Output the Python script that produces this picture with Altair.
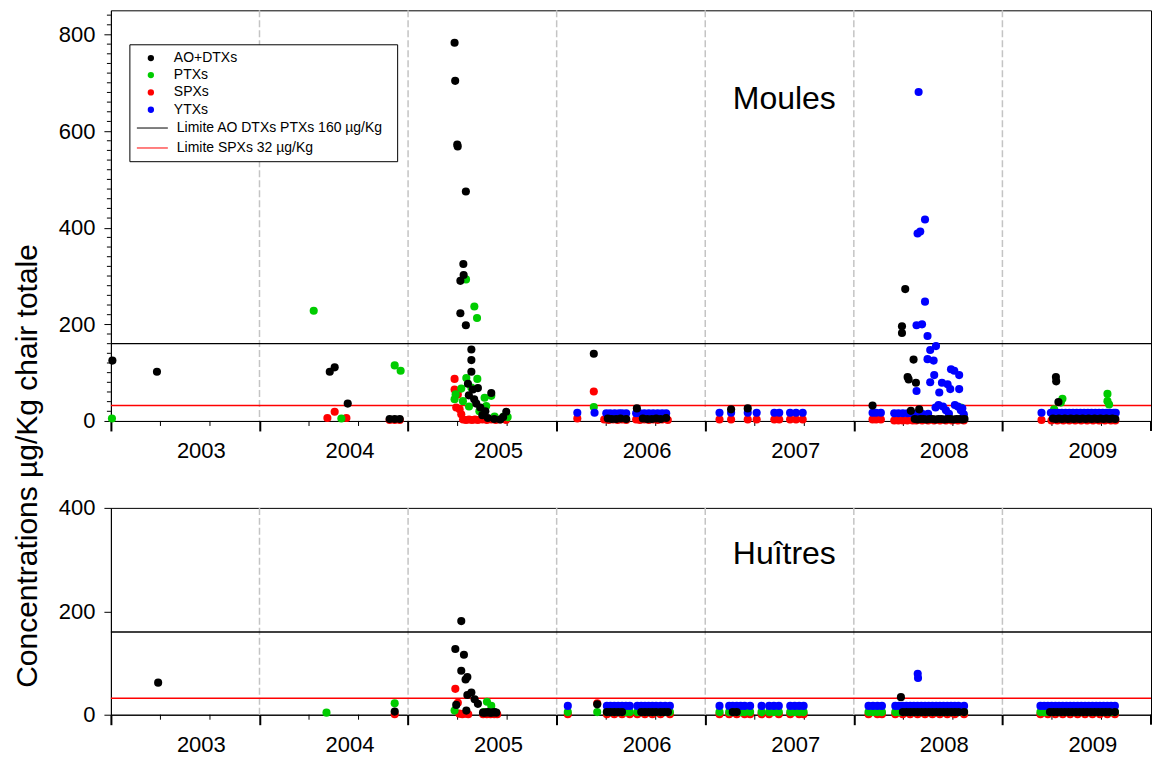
import altair as alt
import pandas as pd

# ---------------------------------------------------------------------------
# Toxin series: (decimal year, concentration in µg/Kg chair totale)
# ---------------------------------------------------------------------------
TOXINS = ["AO+DTXs", "PTXs", "SPXs", "YTXs"]
TOXIN_COLORS = ["#000000", "#00cc00", "#ff0000", "#0000ff"]
DRAW_ORDER = ["SPXs", "PTXs", "YTXs", "AO+DTXs"]

YEAR_TICKS = [2003, 2004, 2005, 2006, 2007, 2008, 2009]
YEAR_END = 2010
SEASON_LINES = [2004, 2005, 2006, 2007, 2008, 2009]
LIMIT_DTX = 160
LIMIT_SPX = 32

# --- Moules ---------------------------------------------------------------
M_AO = [
    (2003.010, 125), (2003.310, 102),
    (2004.473, 102), (2004.506, 111), (2004.594, 36), (2004.876, 4), (2004.910, 4), (2004.944, 4),
    (2005.313, 783), (2005.317, 704), (2005.331, 572), (2005.334, 568), (2005.352, 290), (2005.352, 223),
    (2005.372, 325), (2005.374, 302), (2005.389, 475), (2005.389, 198), (2005.403, 77), (2005.409, 53),
    (2005.426, 148), (2005.426, 126), (2005.426, 102), (2005.436, 65), (2005.445, 45), (2005.459, 36),
    (2005.470, 68), (2005.486, 28), (2005.500, 12), (2005.520, 20), (2005.537, 6), (2005.560, 58),
    (2005.580, 4), (2005.620, 3), (2005.640, 8), (2005.661, 19),
    (2006.250, 139), (2006.344, 5), (2006.370, 4), (2006.400, 4), (2006.430, 5), (2006.468, 4),
    (2006.540, 26), (2006.580, 5), (2006.610, 4), (2006.640, 4), (2006.670, 5), (2006.700, 4), (2006.737, 6),
    (2007.174, 24), (2007.286, 26),
    (2008.126, 32), (2008.324, 196), (2008.324, 182), (2008.346, 273), (2008.362, 91), (2008.369, 86),
    (2008.384, 21), (2008.402, 127), (2008.418, 79), (2008.440, 24),
    (2008.410, 4), (2008.430, 3), (2008.450, 4), (2008.470, 4), (2008.490, 3), (2008.510, 4),
    (2008.530, 4), (2008.550, 3), (2008.570, 4), (2008.590, 4), (2008.610, 3), (2008.630, 4),
    (2008.650, 4), (2008.670, 3), (2008.690, 4), (2008.710, 4), (2008.730, 3), (2008.745, 4),
    (2009.360, 91), (2009.362, 82), (2009.377, 39),
    (2009.340, 5), (2009.360, 4), (2009.380, 5), (2009.400, 4), (2009.420, 5), (2009.440, 4),
    (2009.460, 5), (2009.480, 4), (2009.500, 5), (2009.520, 4), (2009.540, 5), (2009.560, 4),
    (2009.580, 5), (2009.600, 4), (2009.620, 5), (2009.640, 4), (2009.660, 5), (2009.680, 4),
    (2009.700, 5), (2009.720, 4), (2009.740, 5), (2009.760, 4),
]

M_PTX = [
    (2003.007, 5),
    (2004.365, 228), (2004.551, 5), (2004.910, 115), (2004.950, 104),
    (2005.313, 45), (2005.320, 55), (2005.358, 67), (2005.369, 41), (2005.390, 293), (2005.392, 89),
    (2005.410, 30), (2005.426, 69), (2005.446, 237), (2005.464, 213), (2005.466, 87), (2005.480, 20),
    (2005.515, 48), (2005.526, 31), (2005.560, 52), (2005.582, 9), (2005.643, 9), (2005.670, 8),
    (2006.250, 29),
    (2008.720, 28), (2008.740, 8),
    (2009.348, 24), (2009.393, 38), (2009.404, 46), (2009.450, 6), (2009.600, 6),
    (2009.707, 56), (2009.707, 41), (2009.718, 34),
]

M_SPX = [
    (2004.457, 6), (2004.506, 19), (2004.585, 6), (2004.876, 2), (2004.910, 2), (2004.944, 2),
    (2005.313, 87), (2005.313, 65), (2005.324, 28), (2005.335, 55), (2005.347, 24), (2005.358, 14),
    (2005.370, 3), (2005.390, 2), (2005.410, 3), (2005.430, 2), (2005.450, 3), (2005.470, 2),
    (2005.500, 3), (2005.530, 2), (2005.560, 3), (2005.590, 2), (2005.620, 3), (2005.660, 2),
    (2006.139, 5), (2006.250, 61),
    (2006.320, 3), (2006.350, 2), (2006.380, 3), (2006.410, 2), (2006.440, 3), (2006.468, 2),
    (2006.535, 3), (2006.560, 2), (2006.590, 3), (2006.620, 2), (2006.650, 3), (2006.680, 2),
    (2006.710, 3), (2006.748, 2),
    (2007.096, 3), (2007.174, 3), (2007.286, 3), (2007.346, 3), (2007.465, 3), (2007.498, 3),
    (2007.571, 3), (2007.611, 3), (2007.656, 3),
    (2008.126, 3), (2008.150, 3), (2008.182, 3),
    (2008.272, 1), (2008.300, 1), (2008.330, 1), (2008.360, 1), (2008.396, 1),
    (2008.420, 1), (2008.460, 1), (2008.500, 1), (2008.540, 1), (2008.580, 1), (2008.620, 1),
    (2008.660, 1), (2008.700, 1), (2008.740, 1),
    (2009.263, 2),
    (2009.330, 1), (2009.370, 1), (2009.410, 1), (2009.450, 1), (2009.490, 1), (2009.530, 1),
    (2009.570, 1), (2009.610, 1), (2009.650, 1), (2009.690, 1), (2009.730, 1), (2009.760, 1),
]

M_YTX = [
    (2006.139, 17), (2006.255, 17),
    (2006.334, 16), (2006.360, 16), (2006.390, 16), (2006.420, 16), (2006.440, 16), (2006.468, 16),
    (2006.535, 16), (2006.560, 16), (2006.590, 16), (2006.620, 16), (2006.650, 16), (2006.680, 16),
    (2006.710, 16), (2006.737, 16),
    (2007.096, 17), (2007.174, 17), (2007.286, 17), (2007.346, 17), (2007.465, 17), (2007.498, 17),
    (2007.571, 17), (2007.611, 17), (2007.656, 17),
    (2008.126, 17), (2008.150, 17), (2008.182, 17),
    (2008.272, 16), (2008.300, 16), (2008.330, 16), (2008.360, 16), (2008.384, 16),
    (2008.422, 198), (2008.422, 62), (2008.429, 388), (2008.436, 681), (2008.447, 392), (2008.459, 200),
    (2008.479, 417), (2008.479, 247), (2008.496, 176), (2008.496, 128), (2008.514, 147), (2008.514, 80),
    (2008.537, 125), (2008.541, 95), (2008.553, 155), (2008.575, 59), (2008.593, 79), (2008.631, 76),
    (2008.649, 66), (2008.654, 107), (2008.676, 104), (2008.709, 95), (2008.709, 66),
    (2008.420, 15), (2008.460, 15), (2008.500, 15), (2008.550, 28), (2008.570, 33), (2008.600, 30),
    (2008.620, 22), (2008.640, 15), (2008.680, 33), (2008.700, 30), (2008.720, 22), (2008.730, 26),
    (2008.740, 14),
    (2009.263, 17),
    (2009.326, 17), (2009.350, 17), (2009.375, 17), (2009.400, 17), (2009.425, 17), (2009.450, 17),
    (2009.475, 17), (2009.500, 17), (2009.525, 17), (2009.550, 17), (2009.575, 17), (2009.600, 17),
    (2009.625, 17), (2009.650, 17), (2009.675, 17), (2009.700, 17), (2009.725, 17), (2009.750, 17),
    (2009.763, 17),
]

# --- Huîtres --------------------------------------------------------------
H_AO = [
    (2003.318, 62),
    (2004.910, 6),
    (2005.318, 127), (2005.324, 19), (2005.358, 181), (2005.358, 85), (2005.376, 116),
    (2005.387, 68), (2005.392, 8), (2005.399, 73), (2005.399, 38), (2005.426, 43),
    (2005.448, 30), (2005.470, 21),
    (2005.504, 4), (2005.520, 4), (2005.535, 5), (2005.550, 4), (2005.565, 4), (2005.580, 5), (2005.594, 4),
    (2006.273, 20),
    (2006.338, 5), (2006.362, 5), (2006.388, 5), (2006.414, 5), (2006.440, 5),
    (2006.569, 5), (2006.594, 5), (2006.619, 5), (2006.644, 5), (2006.669, 5), (2006.699, 5),
    (2006.724, 5), (2006.749, 5),
    (2007.185, 5), (2007.212, 5),
    (2008.317, 34),
    (2008.330, 5), (2008.355, 5), (2008.380, 5), (2008.405, 5), (2008.430, 5), (2008.455, 5),
    (2008.480, 5), (2008.505, 5), (2008.530, 5), (2008.555, 5), (2008.580, 5), (2008.605, 5),
    (2008.630, 5), (2008.655, 5), (2008.680, 5), (2008.705, 5), (2008.742, 5),
    (2009.320, 5), (2009.345, 5), (2009.370, 5), (2009.395, 5), (2009.420, 5), (2009.445, 5),
    (2009.470, 5), (2009.495, 5), (2009.520, 5), (2009.545, 5), (2009.570, 5), (2009.595, 5),
    (2009.620, 5), (2009.645, 5), (2009.670, 5), (2009.695, 5), (2009.720, 5), (2009.757, 5),
]

H_PTX = [
    (2004.451, 4), (2004.910, 22),
    (2005.313, 8), (2005.510, 5), (2005.531, 25), (2005.560, 17), (2005.580, 5),
    (2006.075, 5), (2006.273, 5),
    (2006.338, 5), (2006.362, 5), (2006.388, 5), (2006.414, 5), (2006.440, 5), (2006.466, 5),
    (2006.492, 5), (2006.543, 5), (2006.569, 5), (2006.594, 5), (2006.619, 5), (2006.644, 5),
    (2006.669, 5), (2006.699, 5), (2006.730, 5), (2006.762, 5),
    (2007.096, 5), (2007.161, 5), (2007.185, 5), (2007.212, 5), (2007.238, 5), (2007.265, 5),
    (2007.302, 5), (2007.379, 5), (2007.430, 5), (2007.462, 5), (2007.495, 5), (2007.572, 5),
    (2007.602, 5), (2007.632, 5), (2007.662, 5),
    (2008.099, 5), (2008.129, 5), (2008.159, 5), (2008.189, 5),
    (2008.279, 5), (2008.304, 5), (2008.329, 5), (2008.354, 5), (2008.379, 5), (2008.404, 5),
    (2008.429, 5), (2008.454, 5), (2008.479, 5), (2008.504, 5), (2008.529, 5), (2008.554, 5),
    (2008.579, 5), (2008.604, 5), (2008.629, 5), (2008.654, 5), (2008.679, 5), (2008.704, 5),
    (2008.742, 5),
    (2009.256, 5), (2009.281, 5), (2009.306, 5), (2009.331, 5), (2009.356, 5), (2009.381, 5),
    (2009.406, 5), (2009.431, 5), (2009.456, 5), (2009.481, 5), (2009.506, 5), (2009.531, 5),
    (2009.556, 5), (2009.581, 5), (2009.606, 5), (2009.631, 5), (2009.656, 5), (2009.681, 5),
    (2009.706, 5), (2009.731, 5), (2009.757, 5),
]

H_SPX = [
    (2004.910, 1),
    (2005.318, 50), (2005.335, 23), (2005.345, 2), (2005.365, 1), (2005.385, 2), (2005.405, 1),
    (2005.505, 1), (2005.530, 1), (2005.555, 1), (2005.580, 1), (2005.600, 1),
    (2006.075, 1), (2006.273, 22),
    (2006.338, 1), (2006.388, 1), (2006.440, 1), (2006.492, 1), (2006.543, 1), (2006.594, 1),
    (2006.644, 1), (2006.699, 1), (2006.762, 1),
    (2007.096, 1), (2007.161, 1), (2007.212, 1), (2007.265, 1), (2007.302, 1), (2007.379, 1),
    (2007.430, 1), (2007.495, 1), (2007.572, 1), (2007.632, 1), (2007.662, 1),
    (2008.099, 1), (2008.159, 1), (2008.189, 1),
    (2008.279, 1), (2008.329, 1), (2008.379, 1), (2008.429, 1), (2008.479, 1), (2008.529, 1),
    (2008.579, 1), (2008.629, 1), (2008.679, 1), (2008.742, 1),
    (2009.256, 1), (2009.306, 1), (2009.356, 1), (2009.406, 1), (2009.456, 1), (2009.506, 1),
    (2009.556, 1), (2009.606, 1), (2009.656, 1), (2009.706, 1), (2009.757, 1),
]

H_YTX = [
    (2006.075, 17),
    (2006.338, 17), (2006.362, 17), (2006.388, 17), (2006.414, 17), (2006.440, 17), (2006.466, 17),
    (2006.492, 17), (2006.543, 17), (2006.569, 17), (2006.594, 17), (2006.619, 17), (2006.644, 17),
    (2006.669, 17), (2006.699, 17), (2006.730, 17), (2006.762, 17),
    (2007.096, 17), (2007.161, 17), (2007.185, 17), (2007.212, 17), (2007.238, 17), (2007.265, 17),
    (2007.302, 17), (2007.379, 17), (2007.430, 17), (2007.462, 17), (2007.495, 17), (2007.572, 17),
    (2007.602, 17), (2007.632, 17), (2007.662, 17),
    (2008.099, 17), (2008.129, 17), (2008.159, 17), (2008.189, 17),
    (2008.279, 17), (2008.304, 17), (2008.329, 17), (2008.354, 17), (2008.379, 17), (2008.404, 17),
    (2008.429, 17), (2008.454, 17), (2008.479, 17), (2008.504, 17), (2008.529, 17), (2008.554, 17),
    (2008.579, 17), (2008.604, 17), (2008.629, 17), (2008.654, 17), (2008.679, 17), (2008.704, 17),
    (2008.742, 17),
    (2008.430, 79), (2008.432, 71),
    (2009.256, 17), (2009.281, 17), (2009.306, 17), (2009.331, 17), (2009.356, 17), (2009.381, 17),
    (2009.406, 17), (2009.431, 17), (2009.456, 17), (2009.481, 17), (2009.506, 17), (2009.531, 17),
    (2009.556, 17), (2009.581, 17), (2009.606, 17), (2009.631, 17), (2009.656, 17), (2009.681, 17),
    (2009.706, 17), (2009.731, 17), (2009.757, 17),
]

Y_TITLE = "Concentrations µg/Kg chair totale"
LEGEND_POINTS = ["AO+DTXs", "PTXs", "SPXs", "YTXs"]
LEGEND_LINES = [("Limite AO DTXs PTXs 160 µg/Kg", "#000000"), ("Limite SPXs 32 µg/Kg", "#ff0000")]

# ---------------------------------------------------------------------------
FONT = "Liberation Sans, Arial, Helvetica, sans-serif"
PLOT_W = 1041
TOP_H = 411
BOT_H = 207

MINOR_X = [y + k / 3 for y in range(2003, 2010) for k in (1, 2)]
MINOR_Y_TOP = [v for v in range(20, 850, 20) if v % 200 != 0]


def long_frame(series):
    rows = []
    for name in DRAW_ORDER:
        for date, value in series[name]:
            rows.append({"date": date, "value": value, "toxin": name})
    return pd.DataFrame(rows)


def one_row(**kw):
    return pd.DataFrame({k: [v] for k, v in kw.items()})


x_scale = alt.Scale(domain=[2003, 2010], nice=False, zero=False)
x_axis = alt.Axis(
    values=YEAR_TICKS, title=None, grid=False, tickSize=10, tickWidth=2, tickColor="black",
    domainColor="black", domainWidth=1, labelFontSize=22, labelFont=FONT, labelColor="black",
    labelOffset=90, labelPadding=10, labelFlush=False, labelOverlap=False, format="d",
)


def panel(df, ymax, yticks, height, name, name_y, minor_y=None, legend=False, y_title=False):
    y_scale = alt.Scale(domain=[0, ymax], nice=False, zero=True)
    y_axis = alt.Axis(
        values=yticks, title=None, grid=False, tickSize=7, tickColor="black", domainColor="black",
        labelFontSize=22, labelFont=FONT, labelColor="black", labelPadding=9,
    )
    X = alt.X("date:Q", scale=x_scale, axis=x_axis, title=None)
    Y = alt.Y("value:Q", scale=y_scale, axis=y_axis, title=None)

    layers = []
    # dashed season separators
    layers.append(
        alt.Chart(pd.DataFrame({"date": SEASON_LINES}))
        .mark_rule(color="#c4c4c4", strokeDash=[7, 3], strokeWidth=1.5)
        .encode(x=X)
    )
    # regulatory limits
    layers.append(
        alt.Chart(pd.DataFrame({"value": [LIMIT_DTX], "limit": ["dtx"]}))
        .mark_rule(color="black", strokeWidth=1.3)
        .encode(y=Y)
    )
    layers.append(
        alt.Chart(pd.DataFrame({"value": [LIMIT_SPX], "limit": ["spx"]}))
        .mark_rule(color="#ff0000", strokeWidth=1.5)
        .encode(y=Y)
    )
    # minor x ticks and the closing major tick at the right edge
    layers.append(
        alt.Chart(pd.DataFrame({"date": MINOR_X}))
        .mark_rule(color="black", strokeWidth=1)
        .encode(x=X, y=alt.value(height), y2=alt.value(height + 5))
    )
    layers.append(
        alt.Chart(pd.DataFrame({"date": [YEAR_END]}))
        .mark_rule(color="black", strokeWidth=2)
        .encode(x=X, y=alt.value(height), y2=alt.value(height + 10))
    )
    if minor_y:
        layers.append(
            alt.Chart(pd.DataFrame({"value": minor_y}))
            .mark_rule(color="black", strokeWidth=1)
            .encode(y=Y, x=alt.value(-4), x2=alt.value(0))
        )
    # measurements
    layers.append(
        alt.Chart(df)
        .mark_circle(size=66, opacity=1)
        .encode(
            x=X,
            y=Y,
            color=alt.Color("toxin:N", scale=alt.Scale(domain=TOXINS, range=TOXIN_COLORS), legend=None),
        )
    )
    # panel name
    layers.append(
        alt.Chart(one_row(t=name))
        .mark_text(fontSize=32, font=FONT, color="black")
        .encode(x=alt.value(674), y=alt.value(name_y), text="t:N")
    )
    if legend:
        layers.append(
            alt.Chart(one_row(t=""))
            .mark_rect(fill="white", stroke="black", strokeWidth=1)
            .encode(x=alt.value(19), x2=alt.value(287), y=alt.value(34.5), y2=alt.value(151.5))
        )
        row_y = [47.8, 64.8, 82.2, 99.5]
        for label, color, ry in zip(LEGEND_POINTS, TOXIN_COLORS, row_y):
            layers.append(
                alt.Chart(one_row(t=label))
                .mark_circle(size=40, opacity=1, color=color)
                .encode(x=alt.value(40), y=alt.value(ry))
            )
            layers.append(
                alt.Chart(one_row(t=label))
                .mark_text(fontSize=14, font=FONT, color="black", align="left")
                .encode(x=alt.value(63), y=alt.value(ry), text="t:N")
            )
        for (label, color), ry in zip(LEGEND_LINES, [117.8, 137.8]):
            layers.append(
                alt.Chart(one_row(t=label))
                .mark_rule(color=color, strokeWidth=1)
                .encode(x=alt.value(26), x2=alt.value(57), y=alt.value(ry))
            )
            layers.append(
                alt.Chart(one_row(t=label))
                .mark_text(fontSize=14, font=FONT, color="black", align="left")
                .encode(x=alt.value(66), y=alt.value(ry), text="t:N")
            )
    if y_title:
        layers.append(
            alt.Chart(one_row(t=Y_TITLE))
            .mark_text(fontSize=30, font=FONT, color="black", angle=270)
            .encode(x=alt.value(-83), y=alt.value(456), text="t:N")
        )
    return alt.layer(*layers).properties(width=PLOT_W, height=height)


moules = long_frame({"AO+DTXs": M_AO, "PTXs": M_PTX, "SPXs": M_SPX, "YTXs": M_YTX})
huitres = long_frame({"AO+DTXs": H_AO, "PTXs": H_PTX, "SPXs": H_SPX, "YTXs": H_YTX})

top = panel(moules, 850, [0, 200, 400, 600, 800], TOP_H, "Moules", 88.5,
            minor_y=MINOR_Y_TOP, legend=True, y_title=True)
bottom = panel(huitres, 400, [0, 200, 400], BOT_H, "Huîtres", 46)

chart = (
    alt.vconcat(top, bottom, spacing=87, bounds="flush")
    .properties(padding={"left": 12, "top": 8, "right": 1, "bottom": 0}, background="white")
    .configure_view(stroke="black", strokeWidth=1)
)

chart.save("out.html", embed_options={"renderer": "svg", "actions": False})
